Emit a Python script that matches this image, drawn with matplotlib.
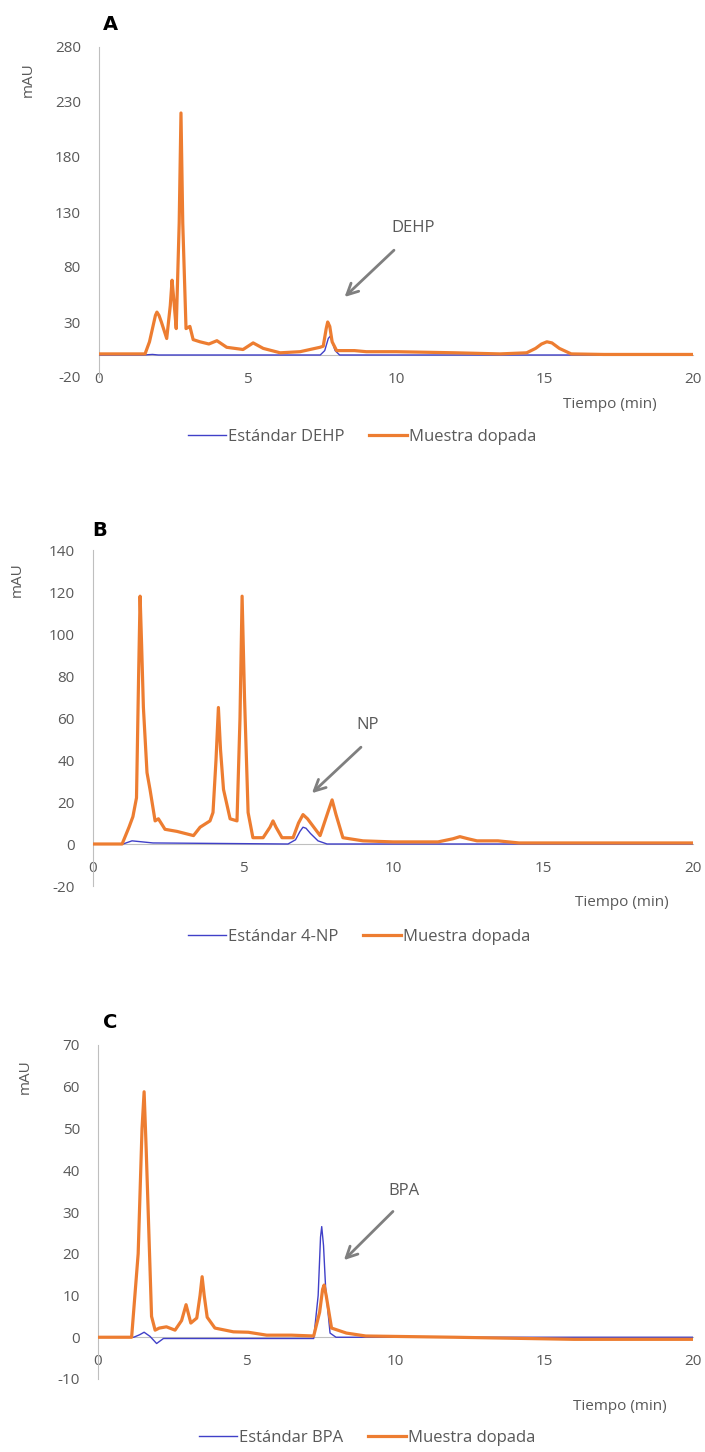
import matplotlib
matplotlib.use('Agg')
import matplotlib.pyplot as plt

plt.rcParams['font.family'] = ['Open Sans', 'DejaVu Sans']
plt.rcParams['axes.unicode_minus'] = False

# ---- Panel A: DEHP ----
a_t_std = [0, 1.5, 1.8, 2.0, 7.45, 7.6, 7.72, 7.78, 7.85, 7.95, 8.1, 11, 20]
a_y_std = [0, 0, 0.5, 0, 0, 4, 15, 17, 12, 4, 0, 0, 0]
a_t_mue = [0, 1.55, 1.7, 1.8, 1.9, 1.95, 2.02, 2.1, 2.28, 2.4, 2.46, 2.52, 2.6, 2.7, 2.76,
           2.82, 2.93, 3.06, 3.17, 3.4, 3.7, 3.97, 4.3, 4.85, 5.19, 5.53, 6.1, 6.77, 7.44,
           7.55, 7.65, 7.7, 7.77, 7.85, 8.0, 8.6, 9.0, 10, 12, 13.5, 14.4, 14.7, 14.9, 15.08,
           15.25, 15.5, 15.9, 17, 20]
a_y_mue = [1, 1, 12, 24, 36, 39, 36, 30, 15, 45, 68, 50, 24, 120, 220,
           120, 24, 26, 14, 12, 10, 13, 7, 5, 11, 6, 2, 3, 7,
           8, 24, 30, 26, 12, 4, 4, 3, 3, 2, 1, 2, 6, 10, 12,
           11, 6, 1, 0.5, 0.5]

# ---- Panel B: 4-NP ----
b_t_std = [0, 1.0, 1.3, 2.0, 6.5, 6.75, 6.9, 7.0, 7.1, 7.25, 7.5, 7.8, 20]
b_y_std = [0, 0, 1.5, 0.5, 0, 2, 6, 8, 7.5, 5, 1.5, 0, 0]
b_t_mue = [0, 0.97, 1.2, 1.33, 1.45, 1.52, 1.57, 1.62, 1.68, 1.8, 1.9, 2.07, 2.18, 2.4, 2.8,
           3.35, 3.57, 3.9, 4.0, 4.1, 4.18, 4.25, 4.35, 4.57, 4.8, 4.9, 4.97, 5.05, 5.17,
           5.33, 5.67, 5.9, 6.0, 6.1, 6.3, 6.67, 6.85, 7.0, 7.15, 7.57, 7.85, 7.97, 8.1,
           8.33, 9, 10, 11.5, 12.0, 12.23, 12.5, 12.8, 13.5, 14.2, 20]
b_y_mue = [0, 0, 8, 13, 22, 80, 118, 95, 65, 34, 26, 11, 12, 7, 6,
           4, 8, 11, 15, 40, 65, 45, 26, 12, 11, 60, 118, 70, 15,
           3, 3, 8, 11, 8, 3, 3, 10, 14, 12, 4, 16, 21, 14,
           3, 1.5, 1, 1, 2.5, 3.5, 2.5, 1.5, 1.5, 0.5, 0.5]

# ---- Panel C: BPA ----
c_t_std = [0, 1.2, 1.4, 1.55, 1.75, 1.97, 2.2, 7.25, 7.4, 7.48, 7.52, 7.58, 7.65, 7.8, 8.0, 20]
c_y_std = [0, 0, 0.6, 1.2, 0.2, -1.5, -0.3, -0.3, 10, 24, 26.5, 22, 12, 1, 0, 0]
c_t_mue = [0, 1.13, 1.35, 1.48, 1.55, 1.62, 1.8, 1.92, 2.06, 2.3, 2.59, 2.81, 2.96, 3.12, 3.32,
           3.43, 3.5, 3.57, 3.67, 3.93, 4.55, 5.05, 5.67, 6.5, 7.25, 7.45, 7.55, 7.6, 7.67,
           7.85, 8.35, 9, 12, 16, 20]
c_y_mue = [0, 0, 20, 50, 58.8, 45, 5, 1.7, 2.2, 2.5, 1.7, 4, 7.8, 3.4, 4.6,
           10, 14.5, 10, 4.8, 2.2, 1.3, 1.2, 0.5, 0.5, 0.3, 6, 11.5, 12.5, 10,
           2.2, 1, 0.3, 0, -0.5, -0.5]

orange = '#ED7D31'
blue = '#4040C8'
gray_txt = '#595959'
gray_ax = '#BFBFBF'

fig = plt.figure(figsize=(7.05, 14.52), dpi=100)
H = 1452.0
W = 705.0

panels = [
    dict(pos=(99, 47, 693, 377), ylim=(-20, 280), yticks=range(-20, 281, 50),
         std=(a_t_std, a_y_std, 'Estándar DEHP'), mue=(a_t_mue, a_y_mue),
         letter='A', lpos=(110, 25), mau=(28, 80), tiempo=(610, 405), leg=(362, 437),
         name='DEHP', txt=(10.57, 115), arr=((10.0, 97), (8.2, 51))),
    dict(pos=(93, 550, 693, 886), ylim=(-20, 140), yticks=range(-20, 141, 20),
         std=(b_t_std, b_y_std, 'Estándar 4-NP'), mue=(b_t_mue, b_y_mue),
         letter='B', lpos=(100, 530), mau=(17, 580), tiempo=(622, 902), leg=(359, 937),
         name='NP', txt=(9.17, 56.7), arr=((9.0, 47), (7.23, 23.3))),
    dict(pos=(98, 1045, 693, 1379), ylim=(-10, 70), yticks=range(-10, 71, 10),
         std=(c_t_std, c_y_std, 'Estándar BPA'), mue=(c_t_mue, c_y_mue),
         letter='C', lpos=(110, 1023), mau=(25, 1077), tiempo=(620, 1407), leg=(367, 1438),
         name='BPA', txt=(10.29, 35), arr=((9.98, 30.6), (8.2, 18))),
]

for p in panels:
    x0, y0, x1, y1 = p['pos']
    ax = fig.add_axes([x0 / W, 1 - y1 / H, (x1 - x0) / W, (y1 - y0) / H])
    t, y, lab = p['std']
    ax.plot(t, y, color=blue, lw=1.0, label=lab, zorder=3)
    ax.plot(p['mue'][0], p['mue'][1], color=orange, lw=2.3, label='Muestra dopada',
            zorder=4, solid_joinstyle='round')
    ax.set_xlim(0, 20)
    ax.set_ylim(*p['ylim'])
    ax.set_xticks([0, 5, 10, 15, 20])
    ax.set_yticks(list(p['yticks']))
    for s in ['top', 'right']:
        ax.spines[s].set_visible(False)
    ax.spines['bottom'].set_position(('data', 0))
    ax.spines['bottom'].set_color(gray_ax)
    ax.spines['left'].set_color(gray_ax)
    ax.tick_params(axis='both', length=0, labelsize=11, labelcolor=gray_txt)
    ax.tick_params(axis='x', pad=12)
    ax.tick_params(axis='y', pad=13)
    ax.annotate('', xy=p['arr'][1], xytext=p['arr'][0],
                arrowprops=dict(arrowstyle='->,head_length=0.8,head_width=0.4',
                                color='#7F7F7F', lw=2))
    ax.text(p['txt'][0], p['txt'][1], p['name'], fontsize=12, color=gray_txt,
            ha='center', va='center')
    fig.text(p['lpos'][0] / W, 1 - p['lpos'][1] / H, p['letter'], fontsize=14,
             fontweight='bold', family='DejaVu Sans', ha='center', va='center')
    fig.text(p['mau'][0] / W, 1 - p['mau'][1] / H, 'mAU', fontsize=11, color=gray_txt,
             rotation=90, ha='center', va='center')
    fig.text(p['tiempo'][0] / W, 1 - p['tiempo'][1] / H, 'Tiempo (min)', fontsize=11,
             color=gray_txt, ha='center', va='center')
    leg = ax.legend(loc='center', bbox_to_anchor=(p['leg'][0] / W, 1 - p['leg'][1] / H),
                    bbox_transform=fig.transFigure, ncol=2, frameon=False, fontsize=12,
                    handlelength=2.3, handletextpad=0.1, columnspacing=1.5)
    for txt in leg.get_texts():
        txt.set_color(gray_txt)

fig.savefig('out.png', dpi=100)
